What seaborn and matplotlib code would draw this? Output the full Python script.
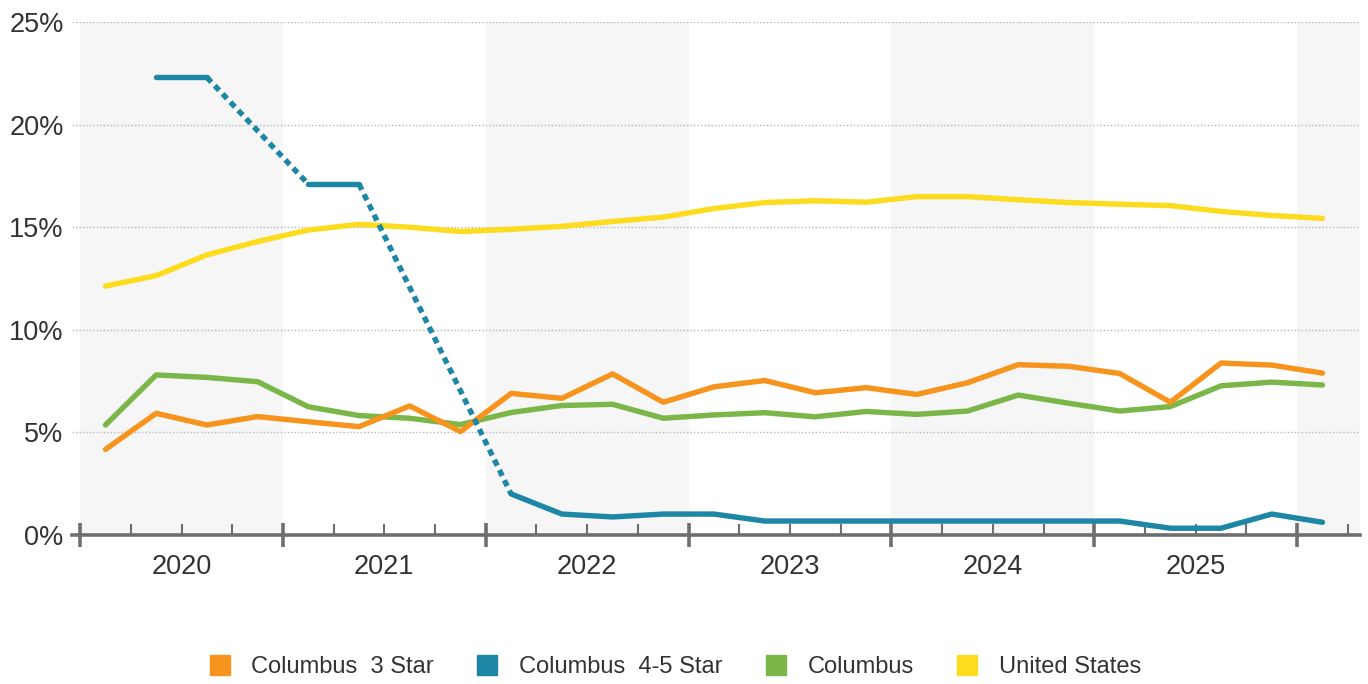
import numpy as np
import pandas as pd
import seaborn as sns
import matplotlib
matplotlib.use("Agg")
import matplotlib.pyplot as plt
from matplotlib.lines import Line2D
from matplotlib.ticker import MultipleLocator, FuncFormatter
import matplotlib.transforms as mtransforms

# ---------------- data ----------------
quarters = [f"{y} Q{q}" for y in range(2020, 2026) for q in range(1, 5)] + ["2026 Q1"]
years = [2020, 2021, 2022, 2023, 2024, 2025]

columbus_3star = [4.17, 5.93, 5.36, 5.77, 5.52, 5.28, 6.29, 5.04, 6.90, 6.66, 7.85, 6.47,
                  7.22, 7.53, 6.93, 7.18, 6.85, 7.42, 8.30, 8.22, 7.87, 6.47, 8.38, 8.28, 7.89]
columbus_45star = [np.nan, 22.3, 22.3, np.nan, 17.1, 17.1, np.nan, np.nan, 2.0, 1.02, 0.88, 1.02,
                   1.02, 0.68, 0.68, 0.68, 0.68, 0.68, 0.68, 0.68, 0.68, 0.33, 0.33, 1.02, 0.62]
columbus = [5.36, 7.80, 7.68, 7.47, 6.25, 5.82, 5.69, 5.38, 5.97, 6.31, 6.37, 5.69,
            5.85, 5.96, 5.76, 6.02, 5.88, 6.04, 6.82, 6.42, 6.04, 6.26, 7.27, 7.45, 7.31]
united_states = [12.13, 12.64, 13.65, 14.30, 14.86, 15.14, 15.00, 14.79, 14.90, 15.04, 15.28, 15.49,
                 15.91, 16.20, 16.29, 16.22, 16.49, 16.49, 16.34, 16.20, 16.12, 16.05, 15.77, 15.57, 15.43]

series_names = ["Columbus  3 Star", "Columbus  4-5 Star", "Columbus", "United States"]
colors = {"Columbus  3 Star": "#F7941D", "Columbus  4-5 Star": "#1E87A6",
          "Columbus": "#7AB648", "United States": "#FDDC1F"}

# numeric x positions (middle of each quarter)
xpos = [int(q[:4]) + (int(q[-1]) - 0.5) / 4 for q in quarters]

df = pd.DataFrame({"x": xpos * 4,
                   "value": columbus_3star + columbus_45star + columbus + united_states,
                   "series": sum([[n] * len(xpos) for n in series_names], [])})

# ---------------- figure ----------------
sns.set_theme(style="white")
plt.rcParams["font.family"] = ["Liberation Sans", "DejaVu Sans"]

fig = plt.figure(figsize=(13.68, 6.84), dpi=100)
ax = fig.add_axes([72 / 1368, 1 - 535 / 684, (1360 - 72) / 1368, (535 - 22) / 684])

# alternating year bands
for y in [2020, 2022, 2024, 2026]:
    ax.axvspan(y, y + 1, color="#F6F6F6", zorder=0, lw=0)

LW = 3.9
order = ["United States", "Columbus", "Columbus  3 Star"]
for name in order:
    sub = df[df.series == name]
    sns.lineplot(data=sub, x="x", y="value", color=colors[name], lw=LW, ax=ax,
                 solid_capstyle="round", solid_joinstyle="round", zorder=3, legend=False)

# Columbus 4-5 Star: solid where data exist, dotted across missing quarters
blue = df[df.series == "Columbus  4-5 Star"].reset_index(drop=True)
valid = blue["value"].notna().to_numpy()
runs = []
i = 0
while i < len(valid):
    if valid[i]:
        j = i
        while j + 1 < len(valid) and valid[j + 1]:
            j += 1
        runs.append((i, j))
        i = j + 1
    else:
        i += 1
for a, b in zip(runs[:-1], runs[1:]):
    bridge = blue.iloc[[a[1], b[0]]]
    sns.lineplot(data=bridge, x="x", y="value", color=colors["Columbus  4-5 Star"], lw=LW,
                 ax=ax, linestyle=(0, (1.2, 0.9)), dash_capstyle="butt", zorder=4, legend=False)
for a, b in runs:
    seg = blue.iloc[a:b + 1]
    sns.lineplot(data=seg, x="x", y="value", color=colors["Columbus  4-5 Star"], lw=LW,
                 ax=ax, solid_capstyle="round", solid_joinstyle="round", zorder=4, legend=False)

# axes limits / grid
ax.set_xlim(2019.96, 2026.31)
ax.set_ylim(0, 25)
ax.yaxis.set_major_locator(MultipleLocator(5))
ax.yaxis.set_major_formatter(FuncFormatter(lambda v, p: f"{v:.0f}%"))
ax.yaxis.grid(True, linestyle=(0, (1, 1.5)), color="#B5B5B5", lw=1)
ax.xaxis.grid(False)
ax.tick_params(axis="y", length=0, pad=6, labelsize=19.5, labelcolor="#333333")

for s in ["left", "right", "top"]:
    ax.spines[s].set_visible(False)
ax.spines["bottom"].set_color("#6E6E6E")
ax.spines["bottom"].set_linewidth(2.6)
ax.spines["bottom"].set_zorder(5)

ax.set_xticks(list(range(2020, 2027)))
ax.set_xticklabels([])
ax.set_xticks([y + q / 4 for y in range(2019, 2027) for q in (1, 2, 3)
               if 2019.96 < y + q / 4 < 2026.31], minor=True)
ax.tick_params(axis="x", which="major", direction="inout", length=17, width=2.6,
               color="#6E6E6E", bottom=True)
ax.tick_params(axis="x", which="minor", direction="in", length=8, width=1.5,
               color="#6E6E6E", bottom=True)

trans = mtransforms.blended_transform_factory(ax.transData, ax.transAxes)
for y in years:
    ax.text(y + 0.5, -0.063, str(y), transform=trans, ha="center", va="center",
            fontsize=19.5, color="#333333")

ax.set_xlabel("")
ax.set_ylabel("")

# legend
handles = [Line2D([], [], marker="s", linestyle="none", markersize=14,
                  markerfacecolor=colors[n], markeredgecolor=colors[n]) for n in series_names]
leg = fig.legend(handles, series_names, loc="center", bbox_to_anchor=(0.493, 1 - 667 / 684),
                 ncol=4, frameon=False, handlelength=1.0, handletextpad=0.85,
                 columnspacing=1.75, borderpad=0,
                 prop={"family": ["Liberation Sans", "DejaVu Sans"], "size": 17})
for t in leg.get_texts():
    t.set_color("#333333")

fig.savefig("out.png", dpi=100)
